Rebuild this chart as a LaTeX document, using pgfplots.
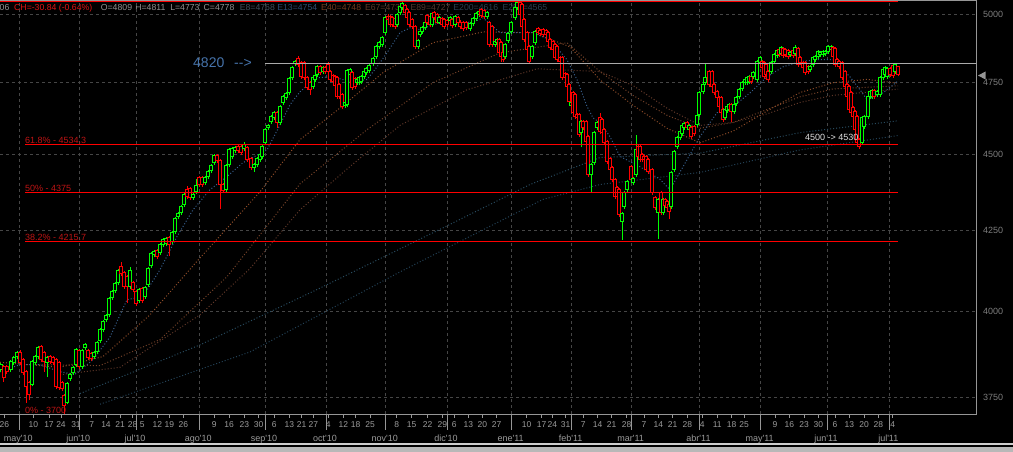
\documentclass[border=0pt]{standalone}
\usepackage{pgfplots}
\pgfplotsset{compat=1.18}
\usepackage{pgfplotstable}
\usepackage{fontspec}
\setmainfont{Liberation Sans}[Ligatures=TeXOff]

\definecolor{cgreen}{RGB}{0,255,0}
\definecolor{cred}{RGB}{255,0,0}
\definecolor{gridgray}{RGB}{70,70,70}
\definecolor{framegray}{RGB}{150,150,150}
\definecolor{ylab}{RGB}{125,125,125}
\definecolor{xlab}{RGB}{155,155,155}
\definecolor{fibtxt}{RGB}{190,20,20}
\definecolor{lvlgray}{RGB}{170,170,170}
\definecolor{bluetxt}{RGB}{70,115,170}
\definecolor{maA}{RGB}{55,95,140}
\definecolor{maB}{RGB}{140,75,40}
\definecolor{maC}{RGB}{115,65,40}
\definecolor{maD}{RGB}{95,55,40}
\definecolor{maE}{RGB}{40,75,95}
\definecolor{maF}{RGB}{35,65,85}
\definecolor{hgray}{RGB}{145,145,145}
\definecolor{hred}{RGB}{225,20,20}
\definecolor{hE8}{RGB}{64,80,92}
\definecolor{hE13}{RGB}{44,74,112}
\definecolor{hE40}{RGB}{112,58,30}
\definecolor{hE67}{RGB}{92,58,42}
\definecolor{hE89}{RGB}{82,56,48}
\definecolor{hE200}{RGB}{42,62,80}
\definecolor{stripA}{RGB}{205,205,205}
\definecolor{stripB}{RGB}{184,184,184}

\newcommand\fhdr{\fontsize{8.7}{10}\selectfont}
\newcommand\fsm{\fontsize{8.5}{10}\selectfont}
\newcommand\ffib{\fontsize{9}{10}\selectfont}

\pgfplotstableread{
x o h l c
1 3828 3848 3822 3843
4 3837 3843 3794 3805
7 3837 3843 3817 3822
11 3828 3857 3822 3851
14 3848 3868 3843 3863
17 3866 3883 3860 3877
20 3877 3886 3843 3848
23 3857 3863 3814 3820
26 3822 3828 3734 3780
29 3791 3797 3743 3757
32 3785 3857 3780 3851
35 3848 3871 3843 3866
38 3866 3898 3860 3892
41 3895 3901 3851 3857
44 3877 3883 3822 3851
47 3848 3868 3808 3863
50 3866 3871 3846 3851
53 3863 3868 3843 3848
56 3857 3863 3774 3780
59 3848 3854 3771 3777
62 3791 3797 3768 3774
64 3754 3760 3701 3726
67 3734 3794 3729 3788
70 3802 3819 3797 3814
73 3820 3840 3814 3834
76 3843 3892 3837 3886
79 3883 3889 3831 3837
82 3837 3889 3831 3883
85 3892 3907 3886 3901
88 3883 3889 3857 3863
91 3875 3880 3854 3860
94 3866 3883 3860 3877
97 3880 3912 3875 3907
100 3913 3951 3907 3945
103 3945 3975 3939 3969
106 3975 3993 3969 3987
109 3990 4044 3984 4038
112 4041 4065 4035 4059
115 4062 4090 4056 4084
118 4087 4130 4080 4124
121 4136 4152 4108 4115
124 4118 4124 4068 4074
127 4105 4111 4026 4074
130 4074 4136 4068 4124
133 4087 4093 4059 4065
136 4059 4065 4017 4023
139 4032 4071 4026 4065
142 4068 4074 4026 4032
145 4044 4077 4038 4071
148 4081 4136 4074 4130
151 4139 4183 4133 4177
154 4174 4189 4167 4183
157 4186 4192 4161 4167
160 4180 4211 4174 4205
163 4205 4227 4199 4221
166 4208 4230 4202 4224
169 4227 4233 4170 4205
172 4215 4249 4208 4243
175 4246 4294 4240 4288
178 4295 4310 4288 4304
181 4307 4333 4301 4327
184 4334 4372 4327 4366
187 4383 4396 4353 4360
190 4386 4392 4350 4356
193 4356 4372 4350 4366
196 4376 4419 4369 4396
199 4422 4429 4392 4399
202 4422 4429 4392 4399
205 4406 4429 4399 4422
208 4426 4449 4419 4442
211 4446 4469 4439 4462
214 4473 4503 4466 4496
217 4496 4503 4473 4479
220 4479 4486 4320 4399
223 4399 4406 4373 4379
226 4383 4469 4376 4462
229 4466 4523 4459 4516
232 4493 4527 4486 4520
235 4513 4530 4506 4523
238 4527 4534 4506 4513
241 4527 4534 4500 4506
244 4520 4544 4513 4533
247 4523 4530 4476 4483
251 4486 4493 4449 4456
254 4456 4473 4442 4466
257 4466 4493 4459 4486
260 4483 4506 4476 4500
262 4493 4534 4486 4527
265 4540 4592 4533 4585
268 4592 4606 4585 4599
271 4612 4637 4606 4630
274 4626 4651 4619 4644
277 4644 4651 4592 4609
280 4609 4672 4602 4665
283 4679 4707 4672 4700
286 4696 4718 4689 4711
289 4714 4771 4707 4764
292 4768 4811 4761 4804
295 4818 4833 4811 4825
298 4836 4847 4807 4815
301 4822 4829 4764 4771
304 4822 4829 4761 4768
307 4768 4775 4725 4732
310 4750 4757 4707 4725
313 4736 4775 4729 4768
315 4761 4782 4754 4775
317 4778 4815 4771 4807
320 4807 4815 4778 4786
323 4789 4811 4782 4804
325 4804 4811 4782 4789
328 4815 4825 4782 4789
330 4789 4796 4754 4761
333 4775 4782 4746 4754
335 4771 4778 4732 4739
337 4768 4775 4693 4700
339 4743 4750 4693 4700
342 4707 4714 4658 4665
345 4668 4686 4661 4679
347 4672 4800 4665 4793
350 4778 4804 4771 4796
352 4786 4793 4725 4732
355 4764 4771 4729 4736
357 4750 4768 4743 4761
359 4750 4775 4743 4768
361 4754 4778 4746 4771
364 4771 4796 4764 4789
366 4786 4807 4778 4800
369 4793 4818 4786 4811
373 4818 4843 4811 4836
376 4844 4887 4836 4880
379 4880 4902 4873 4895
382 4887 4920 4880 4913
385 4932 4995 4924 4987
388 4994 5002 4972 4980
390 4991 4998 4954 4961
392 4987 4995 4954 4961
395 4984 4991 4946 4954
397 4961 5006 4954 4999
400 5006 5037 4999 5029
402 5025 5048 5018 5040
405 5033 5040 4999 5006
407 5018 5025 4980 4987
409 5006 5014 4954 4961
412 4980 4987 4946 4954
415 4954 4961 4873 4880
418 4880 4909 4873 4902
420 4924 4943 4917 4935
422 4935 4957 4928 4950
425 4950 4976 4943 4969
427 4995 5002 4961 4969
430 4991 4998 4954 4961
432 4961 5010 4954 5003
434 5006 5014 4980 4987
437 4999 5006 4965 4972
439 4972 4995 4965 4987
442 4984 4991 4954 4961
444 4980 4987 4946 4954
447 4976 4984 4954 4961
450 4976 4995 4969 4987
452 4980 4987 4950 4958
455 4961 4998 4954 4991
458 4987 4995 4961 4969
460 4972 4980 4946 4954
463 4969 4976 4939 4946
466 4969 4976 4943 4950
470 4946 4972 4939 4965
473 4965 4991 4958 4984
476 4984 5010 4976 5003
479 4999 5018 4991 5010
481 5018 5025 4987 4995
484 5014 5022 4984 4991
487 4991 5014 4984 5006
489 4969 4976 4880 4887
492 4954 4961 4880 4887
495 4887 4906 4880 4899
497 4895 4913 4887 4906
499 4906 4913 4843 4858
501 4895 4902 4825 4843
503 4858 4865 4825 4833
505 4843 4895 4836 4887
508 4902 4935 4895 4928
511 4935 4976 4928 4969
515 4987 5033 4980 5025
517 5025 5052 5018 5044
520 5044 5052 4991 4999
522 5037 5044 4946 4954
524 4980 4987 4898 4906
527 4932 4939 4862 4869
529 4880 4887 4818 4825
532 4843 4887 4836 4880
535 4895 4943 4887 4935
538 4946 4954 4924 4932
540 4939 4946 4920 4928
543 4943 4950 4917 4924
546 4939 4946 4917 4924
548 4932 4939 4891 4898
550 4906 4913 4869 4876
553 4898 4906 4862 4869
555 4887 4895 4833 4840
557 4880 4887 4825 4833
560 4840 4847 4818 4825
562 4840 4847 4761 4768
565 4782 4789 4761 4768
567 4778 4786 4729 4736
569 4743 4750 4675 4683
571 4668 4686 4647 4679
573 4714 4721 4637 4644
575 4707 4714 4623 4630
577 4637 4644 4619 4626
579 4637 4644 4561 4568
581 4575 4619 4527 4613
583 4613 4619 4585 4592
586 4613 4619 4537 4544
588 4561 4568 4426 4432
591 4432 4473 4373 4466
594 4473 4582 4466 4575
597 4592 4616 4585 4609
600 4626 4644 4571 4578
602 4619 4626 4568 4575
604 4585 4592 4533 4540
607 4544 4551 4469 4476
610 4486 4493 4442 4449
612 4456 4462 4409 4416
615 4416 4422 4353 4360
617 4389 4396 4353 4360
619 4383 4389 4295 4301
622 4278 4310 4221 4304
624 4327 4379 4320 4373
627 4383 4416 4376 4409
631 4459 4466 4409 4416
633 4406 4426 4399 4419
636 4432 4568 4426 4516
638 4527 4533 4486 4493
640 4527 4534 4476 4483
642 4500 4506 4476 4483
644 4493 4500 4476 4483
646 4493 4500 4442 4449
648 4483 4490 4436 4442
652 4449 4456 4366 4373
655 4356 4363 4317 4324
658 4307 4356 4224 4350
661 4373 4379 4301 4307
663 4307 4356 4301 4350
665 4350 4356 4324 4330
667 4343 4350 4317 4324
669 4334 4340 4288 4311
671 4327 4446 4320 4439
674 4449 4516 4442 4510
677 4527 4564 4520 4557
680 4557 4585 4551 4578
682 4571 4606 4564 4599
684 4592 4613 4585 4606
687 4609 4616 4585 4592
689 4585 4606 4578 4599
691 4592 4599 4554 4561
694 4595 4602 4564 4571
697 4602 4640 4595 4633
699 4637 4721 4630 4714
703 4718 4750 4711 4743
705 4750 4822 4743 4768
709 4789 4796 4736 4743
712 4789 4796 4729 4736
714 4743 4750 4707 4714
717 4718 4725 4689 4696
719 4696 4703 4658 4665
721 4696 4703 4637 4644
723 4654 4661 4612 4619
725 4626 4661 4619 4654
727 4651 4672 4644 4665
729 4654 4679 4647 4672
731 4672 4679 4612 4647
734 4647 4679 4640 4672
736 4675 4703 4668 4696
739 4700 4732 4693 4725
742 4729 4757 4722 4750
745 4750 4768 4743 4761
747 4750 4775 4743 4768
749 4754 4778 4746 4771
751 4771 4778 4746 4754
753 4771 4793 4764 4786
757 4761 4833 4754 4825
760 4822 4847 4815 4840
762 4825 4833 4796 4804
764 4822 4829 4764 4771
766 4815 4822 4771 4778
768 4789 4796 4754 4761
771 4789 4829 4782 4822
774 4825 4858 4818 4851
777 4847 4873 4840 4865
779 4869 4876 4843 4851
781 4854 4884 4847 4876
783 4873 4880 4840 4847
785 4869 4876 4843 4851
788 4865 4873 4836 4843
790 4851 4865 4843 4858
793 4865 4873 4840 4847
795 4854 4887 4847 4876
798 4873 4880 4807 4815
800 4840 4847 4815 4822
803 4822 4829 4796 4804
805 4822 4829 4778 4786
808 4807 4815 4782 4789
810 4796 4815 4789 4807
813 4815 4847 4807 4840
815 4833 4851 4825 4843
818 4843 4869 4836 4862
820 4851 4865 4843 4858
823 4851 4869 4843 4862
825 4854 4869 4847 4862
828 4862 4887 4854 4880
831 4869 4887 4862 4880
833 4876 4884 4836 4843
835 4873 4880 4807 4815
837 4833 4840 4807 4815
839 4825 4833 4800 4807
842 4822 4829 4761 4768
845 4789 4796 4729 4736
847 4743 4750 4693 4700
849 4736 4743 4647 4654
851 4714 4721 4637 4644
853 4661 4668 4623 4630
855 4647 4654 4578 4585
857 4630 4637 4533 4540
859 4551 4557 4520 4527
862 4540 4633 4533 4626
864 4595 4637 4588 4630
868 4630 4707 4623 4700
870 4700 4725 4693 4718
872 4700 4729 4693 4721
874 4721 4729 4693 4700
877 4707 4725 4700 4718
880 4707 4775 4700 4768
883 4768 4804 4761 4796
885 4779 4811 4771 4804
887 4771 4807 4764 4800
890 4800 4807 4771 4779
893 4811 4818 4768 4775
895 4789 4822 4782 4815
898 4809 4811 4773 4778
}\candles

% E13
\pgfplotstableread{
x p
0 3822
20 3843
40 3843
60 3822
75 3815
93 3857
110 3924
127 4035
143 4044
160 4127
177 4231
193 4317
210 4383
227 4426
243 4473
267 4516
280 4602
290 4672
300 4718
317 4768
333 4771
350 4754
367 4761
377 4807
387 4858
400 4932
410 4950
420 4943
430 4958
440 4969
457 4969
473 4972
483 4987
500 4932
533 4932
550 4906
567 4833
577 4761
587 4666
593 4626
600 4609
610 4561
620 4494
640 4459
660 4417
670 4383
683 4459
700 4561
717 4644
733 4665
750 4714
767 4771
783 4807
800 4826
817 4833
833 4833
850 4771
860 4725
867 4690
883 4714
898 4756
}\maAt

% E40
\pgfplotstableread{
x p
0 3850
60 3835
103 3866
150 3990
197 4153
260 4376
300 4551
333 4641
383 4786
433 4895
483 4935
533 4932
570 4880
600 4760
633 4670
667 4590
700 4540
733 4580
767 4650
800 4715
833 4750
867 4762
898 4748
}\maBt

% E67
\pgfplotstableread{
x p
30 3843
100 3840
160 3916
227 4105
300 4402
367 4585
433 4750
500 4858
567 4895
600 4790
633 4705
667 4635
700 4590
733 4610
767 4655
800 4700
833 4728
898 4739
}\maCt

% E89
\pgfplotstableread{
x p
60 3814
120 3835
200 3990
250 4130
300 4317
350 4460
400 4600
467 4725
537 4800
600 4790
633 4740
667 4660
700 4600
733 4610
767 4640
800 4680
833 4705
898 4727
}\maDt

% E200
\pgfplotstableread{
x p
80 3760
200 3900
320 4070
450 4270
530 4400
600 4490
700 4505
800 4575
898 4616
}\maEt

% E250
\pgfplotstableread{
x p
100 3730
250 3880
400 4120
543 4351
600 4400
700 4440
800 4516
898 4565
}\maFt

\begin{document}
\pgfplotstablegetrowsof{\candles}%
\pgfmathtruncatemacro\nlast{\pgfplotsretval-1}%
\begin{tikzpicture}
\path[use as bounding box, fill=black] (0,0) rectangle (1013pt,-452pt);

% frame
\draw[framegray, line width=1pt] (0,-1pt) -- (976.5pt,-1pt) -- (976.5pt,-414pt) -- (0,-414pt);

% header
\begin{scope}[every node/.style={anchor=base west, inner sep=0pt, font=\fhdr}]
\node[text=hgray] at (-0.5pt,-10.8pt) {06};
\node[text=hred] at (14pt,-10.8pt) {CH=-30.84 (-0.64\%)};
\node[text=hgray] at (100.7pt,-10.8pt) {O=4809};
\node[text=hgray] at (135.1pt,-10.8pt) {H=4811};
\node[text=hgray] at (170.1pt,-10.8pt) {L=4773};
\node[text=hgray] at (203.5pt,-10.8pt) {C=4778};
\node[text=hE8] at (239.6pt,-10.8pt) {E8=4768};
\node[text=hE13] at (277.1pt,-10.8pt) {E13=4754};
\node[text=hE40] at (321pt,-10.8pt) {E40=4748};
\node[text=hE67] at (364.8pt,-10.8pt) {E67=4739};
\node[text=hE89] at (410.4pt,-10.8pt) {E89=4727};
\node[text=hE200] at (453.2pt,-10.8pt) {E200=4616};
\node[text=hE200] at (502.3pt,-10.8pt) {E250=4565};
\end{scope}

\begin{axis}[
  at={(0pt,-1pt)}, anchor=north west,
  scale only axis, width=976.5pt, height=413pt,
  xmin=0, xmax=976.5,
  ymode=log, ymin=3703.28, ymax=5051.8,
  enlargelimits=false,
  axis line style={draw=none},
  tick style={draw=none},
  minor tick num=0,
  xtick={19.3,79.3,136,199.3,265,326,385.7,447,511.7,571.7,631.7,699.5,760.7,827,889.3},
  xticklabels={},
  ytick={3750,4000,4250,4500,4750,5000},
  yticklabels={3750,4000,4250,4500,4750,5000},
  yticklabel pos=right,
  yticklabel style={font=\ffib, text=ylab, anchor=west, inner sep=0pt, xshift=6.5pt},
  grid=major,
  major grid style={draw=gridgray, line width=1pt, dash pattern=on 3pt off 3pt},
]
\addplot[maF, line width=1pt, dash pattern=on 1pt off 2pt] table[x=x, y=p] {\maFt};
\addplot[maE, line width=1pt, dash pattern=on 1pt off 2pt] table[x=x, y=p] {\maEt};
\addplot[maD, line width=1pt, dash pattern=on 1pt off 2pt] table[x=x, y=p] {\maDt};
\addplot[maC, line width=1pt, dash pattern=on 1pt off 2pt] table[x=x, y=p] {\maCt};
\addplot[maB, line width=1pt, dash pattern=on 1pt off 2pt] table[x=x, y=p] {\maBt};
\addplot[maA, line width=1pt, dash pattern=on 1pt off 2pt] table[x=x, y=p] {\maAt};

\pgfplotsforeachungrouped \i in {0,...,\nlast}{%
  \pgfplotstablegetelem{\i}{x}\of\candles\let\kX\pgfplotsretval
  \pgfplotstablegetelem{\i}{o}\of\candles\let\kO\pgfplotsretval
  \pgfplotstablegetelem{\i}{h}\of\candles\let\kH\pgfplotsretval
  \pgfplotstablegetelem{\i}{l}\of\candles\let\kL\pgfplotsretval
  \pgfplotstablegetelem{\i}{c}\of\candles\let\kC\pgfplotsretval
  \ifdim\kC pt<\kO pt\relax\def\kcol{cred}\else\def\kcol{cgreen}\fi
  \pgfmathsetmacro\kXl{\kX-1.3}%
  \pgfmathsetmacro\kXr{\kX+1.3}%
  \edef\kplot{%
    \noexpand\addplot[\kcol, line width=1pt] coordinates {(\kX,\kL) (\kX,\kH)};%
    \noexpand\addplot[draw=\kcol, fill=black, line width=1pt] coordinates {(\kXl,\kO) (\kXr,\kO) (\kXr,\kC) (\kXl,\kC)} -- cycle;%
  }%
  \kplot
}

\addplot[cred, line width=1.4pt] coordinates {(0,5050) (898,5050)};
\addplot[cred, line width=1pt] coordinates {(25,4534.3) (898,4534.3)};
\addplot[cred, line width=1pt] coordinates {(25,4375) (898,4375)};
\addplot[cred, line width=1pt] coordinates {(25,4215.7) (898,4215.7)};
\addplot[lvlgray, line width=1pt] coordinates {(265,4820) (976.5,4820)};
\end{axis}

% x axis ticks and labels
\foreach \x/\t in {4.3/26, 33.3/10, 49/17, 61/24, 76/31, 91.7/7, 106/14, 120/21, 132.7/28, 142.3/5, 157.3/12, 169.3/19, 183.3/26, 214.3/9, 229/16, 244.3/23, 258.7/30, 274.3/6, 289.3/13, 301.7/21, 313.3/27, 328.3/4, 343.3/12, 355.7/18, 370/25, 396.7/8, 411.7/15, 427.7/22, 442.3/29, 454.3/6, 468.3/13, 482.3/20, 496.7/27, 526.7/10, 541.7/17, 552.3/24, 565.7/31, 583.3/7, 597.7/14, 611.7/21, 626.7/28, 644/7, 658.3/14, 672.7/21, 687.3/28, 702.3/4, 717.3/11, 731.7/18, 744/25, 775/9, 789.3/16, 804/23, 818.3/30, 835/6, 849.3/13, 864/20, 878.3/28, 892.7/4}{
  \draw[framegray, line width=1pt] (\x pt,-414pt) -- ++(0,-4pt);
  \node[anchor=base, inner sep=0pt, font=\fsm, text=xlab] at (\x pt,-427.5pt) {\t};
}
\foreach \x/\m in {19.3/may\textquotesingle10, 79.3/jun\textquotesingle10, 136/jul\textquotesingle10, 199.3/ago\textquotesingle10, 265/sep\textquotesingle10, 326/oct\textquotesingle10, 385.7/nov\textquotesingle10, 447/dic\textquotesingle10, 511.7/ene\textquotesingle11, 571.7/feb\textquotesingle11, 631.7/mar\textquotesingle11, 699.5/abr\textquotesingle11, 760.7/may\textquotesingle11, 827/jun\textquotesingle11, 889.3/jul\textquotesingle11}{
  \draw[framegray, line width=1pt] (\x pt,-414pt) -- ++(0,-16pt);
  \node[anchor=base, inner sep=0pt, font=\ffib, text=xlab] at (\x pt - 1pt,-441.5pt) {\m};
}

% bottom strip
\fill[stripA] (0,-443pt) rectangle (1013pt,-444.5pt);
\fill[stripB] (0,-447pt) rectangle (1013pt,-452pt);

% current price marker
\fill[framegray] (978pt,-75.5pt) -- (985.5pt,-71.5pt) -- (985.5pt,-79.5pt) -- cycle;

% annotations
\begin{scope}[every node/.style={anchor=base west, inner sep=0pt}]
\node[font=\ffib, text=fibtxt] at (25pt,-143.2pt) {61.8\% - 4534.3};
\node[font=\ffib, text=fibtxt] at (25pt,-191pt) {50\% - 4375};
\node[font=\ffib, text=fibtxt] at (25pt,-240pt) {38.2\% - 4215.7};
\node[font=\ffib, text=fibtxt] at (25pt,-413.3pt) {0\% - 3700};
\node[font=\fontsize{14}{16}\selectfont, text=bluetxt] at (193pt,-68pt) {4820};
\node[font=\fontsize{14}{16}\selectfont, text=bluetxt] at (234pt,-68pt) {-->};
\node[font=\ffib, text=white!88!black] at (805pt,-140pt) {4500 -> 4530};
\end{scope}
\end{tikzpicture}
\end{document}
